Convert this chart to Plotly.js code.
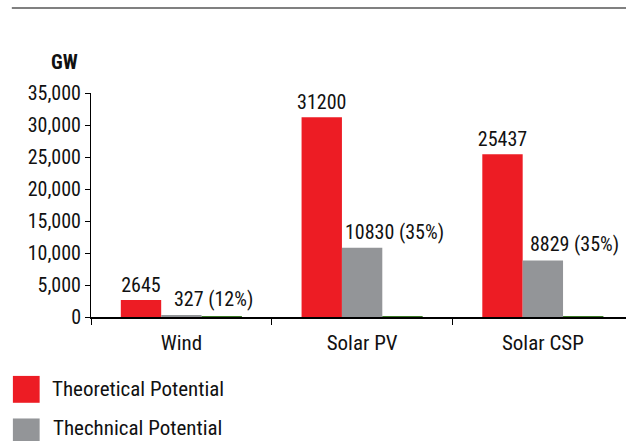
<!DOCTYPE html>
<html><head><meta charset="utf-8">
<script src="https://cdn.plot.ly/plotly-3.0.1.min.js"></script>
<style>body{margin:0;background:#fff}#c{width:626px;height:441px}</style>
</head><body><div id="c"></div>
<script>
const categories = ['Wind', 'Solar PV', 'Solar CSP'];
const theoretical = [2645, 31200, 25437];
const technical = [327, 10830, 8829];
const technicalShare = ['12%', '35%', '35%'];
const economic = [150, 150, 150];
const seriesNames = ['Theoretical Potential', 'Thechnical Potential', 'Economic Potential'];
const seriesColors = ['#ed1c24', '#939598', '#3b7a26'];
const yTickVals = [0, 5000, 10000, 15000, 20000, 25000, 30000, 35000];
const yTickText = ['0', '5,000', '10,000', '15,000', '20,000', '25,000', '30,000', '35,000'];
const unitLabel = 'GW';

const FONT = '"Liberation Sans Narrow", "Roboto Condensed", "Arial Narrow", Roboto, sans-serif';

const traces = [
  {type: 'bar', x: categories, y: theoretical, name: seriesNames[0], marker: {color: seriesColors[0]},
   text: theoretical.map(String), textposition: 'outside', cliponaxis: false, constraintext: 'none',
   textfont: {family: FONT, size: 20, color: '#111'}},
  {type: 'bar', x: categories, y: technical, name: seriesNames[1], marker: {color: seriesColors[1]}},
  {type: 'bar', x: categories, y: economic, name: seriesNames[2], marker: {color: seriesColors[2]}}
];

const annotations = categories.map((c, i) => ({
  x: c, y: technical[i], xref: 'x', yref: 'y', text: technical[i] + ' (' + technicalShare[i] + ')',
  showarrow: false, xanchor: 'center', yanchor: 'bottom', xshift: 32, yshift: 2,
  font: {family: FONT, size: 20, color: '#111'}
}));
annotations.push({x: -0.05, y: 1.14, xref: 'paper', yref: 'paper', text: '<b>' + unitLabel + '</b>',
  showarrow: false, xanchor: 'center', yanchor: 'middle', font: {family: FONT, size: 20, color: '#111'}});

const shapes = [
  {type: 'line', xref: 'paper', yref: 'paper', x0: -0.148, x1: 1.0, y0: 1.379, y1: 1.379,
   line: {color: '#808080', width: 2}}
];
// legend (manual, large swatches)
const legY = [-0.323, -0.513];
[0, 1].forEach(k => {
  shapes.push({type: 'rect', xref: 'paper', yref: 'paper', x0: -0.146, x1: -0.096,
    y0: legY[k] - 0.06, y1: legY[k] + 0.06, fillcolor: seriesColors[k], line: {width: 0}});
});
annotations.push({x: -0.077, y: legY[0], xref: 'paper', yref: 'paper', text: seriesNames[0],
  showarrow: false, xanchor: 'left', yanchor: 'middle', font: {family: FONT, size: 21, color: '#111'}});
annotations.push({x: -0.0735, y: -0.5525, xref: 'paper', yref: 'paper', text: seriesNames[1], borderpad: 0,
  showarrow: false, xanchor: 'left', yanchor: 'bottom', font: {family: FONT, size: 21, color: '#111'}});

const layout = {
  width: 626, height: 441,
  margin: {l: 91, r: 0, t: 93, b: 124},
  paper_bgcolor: '#fff', plot_bgcolor: '#fff',
  showlegend: false,
  barmode: 'group', bargap: 0.33, bargroupgap: 0,
  font: {family: FONT, size: 20, color: '#111'},
  xaxis: {type: 'category', range: [-0.5, 2.46], showline: true, linecolor: '#000', linewidth: 1.5,
    ticks: 'outside', tickson: 'boundaries', ticklen: 6, tickcolor: '#000', showgrid: false,
    ticklabelstandoff: 6,
    tickfont: {family: FONT, size: 21, color: '#111'}},
  yaxis: {range: [0, 35000], tickvals: yTickVals, ticktext: yTickText, showline: true, linecolor: '#000',
    linewidth: 1, ticks: 'outside', ticklen: 5, tickcolor: '#000', showgrid: false, zeroline: false,
    tickfont: {family: FONT, size: 20, color: '#111'}},
  annotations: annotations, shapes: shapes
};

Plotly.newPlot('c', traces, layout, {displayModeBar: false, staticPlot: true});
</script></body></html>
